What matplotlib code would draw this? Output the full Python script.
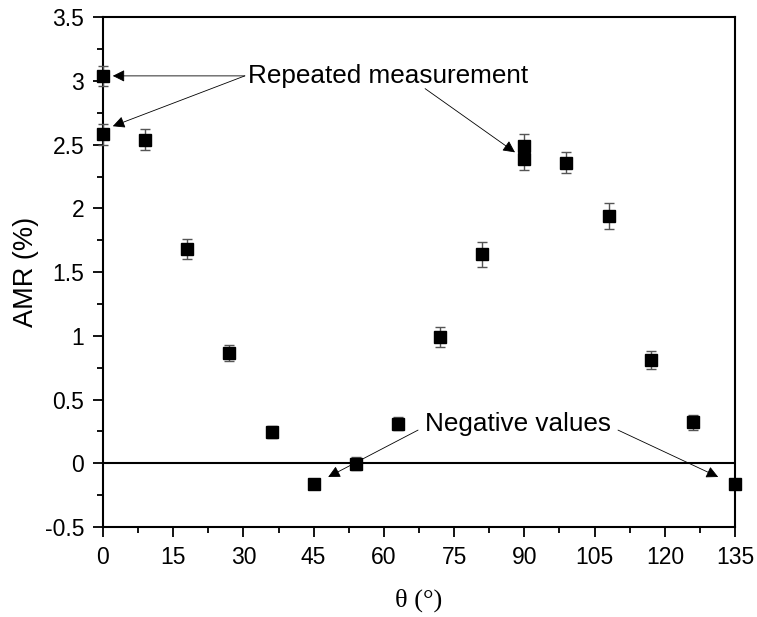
import matplotlib
matplotlib.use("Agg")
import matplotlib.pyplot as plt
from matplotlib.ticker import MultipleLocator, FuncFormatter

plt.rcParams['font.family'] = ['Liberation Sans', 'DejaVu Sans']

theta = [0, 0, 9, 18, 27, 36, 45, 54, 63, 72, 81, 90, 90, 99, 108, 117, 126, 135]
amr = [3.04, 2.58, 2.54, 1.68, 0.865, 0.245, -0.16, -0.005, 0.31, 0.99, 1.64, 2.49, 2.39, 2.36, 1.94, 0.81, 0.32, -0.16]
err = [0.08, 0.08, 0.08, 0.08, 0.06, 0.05, 0.04, 0.05, 0.05, 0.08, 0.10, 0.09, 0.09, 0.08, 0.10, 0.07, 0.06, 0.04]

fig = plt.figure(figsize=(7.57, 6.17), dpi=100)
ax = fig.add_axes([0.136, 0.146, 0.835, 0.826])

ax.axhline(0, color='black', lw=1.5, zorder=1)
ax.errorbar(theta, amr, yerr=err, fmt='s', color='black', ms=8.5,
            ecolor='#555555', elinewidth=1, capsize=3.8, capthick=1, zorder=3, clip_on=False)

ax.set_xlim(0, 135)
ax.set_ylim(-0.5, 3.5)
ax.xaxis.set_major_locator(MultipleLocator(15))
ax.xaxis.set_minor_locator(MultipleLocator(7.5))
ax.yaxis.set_major_locator(MultipleLocator(0.5))
ax.yaxis.set_minor_locator(MultipleLocator(0.25))
ax.yaxis.set_major_formatter(FuncFormatter(lambda v, p: ('%g' % v).replace('\u2212', '-')))
ax.tick_params(which='major', direction='out', length=7.5, width=1.3, labelsize=16.5, pad=6)
ax.tick_params(which='minor', direction='out', length=4, width=1.3)
ax.tick_params(top=False, right=False, which='both')
for s in ax.spines.values():
    s.set_linewidth(1.5)

ax.set_xlabel('θ (°)', fontsize=19, labelpad=14, family=['Liberation Serif', 'DejaVu Serif'])
ax.set_ylabel('AMR (%)', fontsize=19.5, labelpad=4)

ap = dict(arrowstyle='-|>', color='black', lw=0.6, mutation_scale=18, shrinkA=0, shrinkB=0)
ax.text(31.0, 3.04, 'Repeated measurement', fontsize=18.8, ha='left', va='center')
ax.annotate('', xy=(2.1, 3.04), xytext=(30.3, 3.04), arrowprops=ap)
ax.annotate('', xy=(2.1, 2.645), xytext=(30.3, 3.04), arrowprops=ap)
ax.annotate('', xy=(88.0, 2.44), xytext=(68.8, 2.94), arrowprops=ap)

ax.text(68.8, 0.31, 'Negative values', fontsize=18.8, ha='left', va='center')
ax.annotate('', xy=(48.1, -0.108), xytext=(67.3, 0.26), arrowprops=ap)
ax.annotate('', xy=(131.4, -0.108), xytext=(110.0, 0.26), arrowprops=ap)

fig.savefig('out.png', dpi=100)
